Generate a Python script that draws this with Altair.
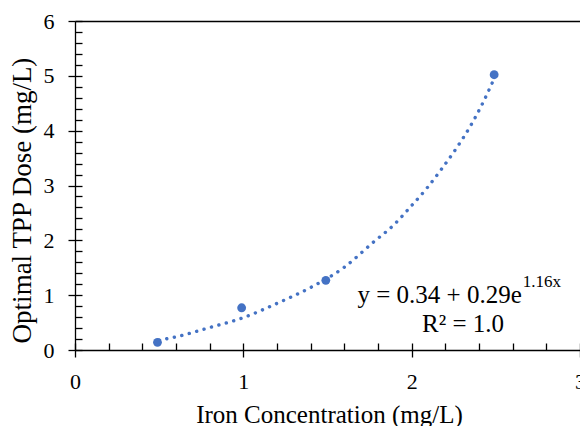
import altair as alt
import pandas as pd

# Data
iron = [0.49, 0.99, 1.49, 2.49]
dose = [0.14, 0.77, 1.27, 5.02]

trend_iron = [0.50, 0.60, 0.80, 1.00, 1.20, 1.40, 1.60, 1.77, 1.89, 1.99,
              2.09, 2.18, 2.27, 2.35, 2.42, 2.49]
trend_dose = [0.18, 0.24, 0.41, 0.59, 0.85, 1.14, 1.51, 1.96, 2.27, 2.60,
              2.95, 3.31, 3.70, 4.09, 4.49, 4.95]

x_major = [0, 1, 2, 3]
y_major = [0, 1, 2, 3, 4, 5, 6]
x_minor = [0, 0.2, 0.4, 0.6, 0.8, 1, 1.2, 1.4, 1.6, 1.8, 2, 2.2, 2.4, 2.6, 2.8, 3]
y_minor = [0, 0.2, 0.4, 0.6, 0.8, 1, 1.2, 1.4, 1.6, 1.8, 2, 2.2, 2.4, 2.6, 2.8, 3,
           3.2, 3.4, 3.6, 3.8, 4, 4.2, 4.4, 4.6, 4.8, 5, 5.2, 5.4, 5.6, 5.8, 6]

eq_main = ["y = 0.34 + 0.29e"]
eq_sup = ["1.16x"]
eq_r2 = ["R\u00b2 = 1.0"]

FONT = "Liberation Serif"
BLUE = "#4472C4"
LW = 1.3

df_pts = pd.DataFrame({"iron": iron, "dose": dose})
df_trend = pd.DataFrame({"iron": trend_iron, "dose": trend_dose})
df_main = pd.DataFrame({"x": [2.654], "y": [0.852], "t": eq_main})
df_sup = pd.DataFrame({"x": [2.66], "y": [1.14], "t": eq_sup})
df_r2 = pd.DataFrame({"x": [2.305], "y": [0.323], "t": eq_r2})

xs = alt.Scale(domain=[0, 3], nice=False)
ys = alt.Scale(domain=[0, 6], nice=False)

x_main = alt.Axis(orient="bottom", values=x_major, format="d", grid=False,
                  tickSize=7, tickColor="black", tickWidth=LW,
                  domainColor="black", domainWidth=LW,
                  labelFont=FONT, labelFontSize=22, labelColor="black",
                  labelPadding=14, labelFlush=False, labelOverlap=False,
                  title="Iron Concentration (mg/L)", titleFont=FONT,
                  titleFontSize=25, titleFontWeight="normal", titleColor="black",
                  titleX=254, titleY=72, titleBaseline="alphabetic",
                  titleAlign="center")
y_main = alt.Axis(orient="left", values=y_major, format="d", grid=False,
                  tickSize=7, tickColor="black", tickWidth=LW,
                  domainColor="black", domainWidth=LW,
                  labelFont=FONT, labelFontSize=22, labelColor="black",
                  labelPadding=14, labelFlush=False, labelOverlap=False,
                  title="Optimal TPP Dose (mg/L)", titleFont=FONT,
                  titleFontSize=27, titleFontWeight="normal", titleColor="black",
                  titleX=-53, titleY=179, titleAngle=270,
                  titleBaseline="middle", titleAlign="center")
x_inner = alt.Axis(orient="bottom", values=x_minor, offset=-7, grid=False,
                   tickSize=7, tickColor="black", tickWidth=LW,
                   domain=False, labels=False, title=None)
y_inner = alt.Axis(orient="left", values=y_minor, offset=-7, grid=False,
                   tickSize=7, tickColor="black", tickWidth=LW,
                   domain=False, labels=False, title=None)
x_top = alt.Axis(orient="top", grid=False, domain=True, domainColor="black",
                 domainWidth=LW, ticks=False, labels=False, title=None)

points = alt.Chart(df_pts).mark_circle(color=BLUE, size=78, opacity=1).encode(
    x=alt.X("iron:Q", scale=xs, axis=x_main),
    y=alt.Y("dose:Q", scale=ys, axis=y_main),
)

trend = alt.Chart(df_trend).mark_line(
    color=BLUE, strokeWidth=3.4, strokeDash=[0.1, 7.6], strokeCap="round",
    interpolate="monotone"
).encode(
    x=alt.X("iron:Q", scale=xs, axis=x_inner),
    y=alt.Y("dose:Q", scale=ys, axis=y_inner),
)

txt_main = alt.Chart(df_main).mark_text(
    font=FONT, fontSize=25, color="black", align="right", baseline="alphabetic"
).encode(
    x=alt.X("x:Q", scale=xs, axis=x_top),
    y=alt.Y("y:Q", scale=ys, axis=None),
    text="t:N",
)
txt_sup = alt.Chart(df_sup).mark_text(
    font=FONT, fontSize=17, color="black", align="left", baseline="alphabetic"
).encode(
    x=alt.X("x:Q", scale=xs, axis=None),
    y=alt.Y("y:Q", scale=ys, axis=None),
    text="t:N",
)
txt_r2 = alt.Chart(df_r2).mark_text(
    font=FONT, fontSize=25, color="black", align="center", baseline="alphabetic"
).encode(
    x=alt.X("x:Q", scale=xs, axis=None),
    y=alt.Y("y:Q", scale=ys, axis=None),
    text="t:N",
)

chart = alt.layer(trend, points, txt_main, txt_sup, txt_r2).resolve_axis(
    x="independent", y="independent"
).properties(
    width=505, height=329,
    padding={"left": 75, "top": 21, "right": 0, "bottom": 76},
    autosize=alt.AutoSizeParams(type="none"),
    background="white",
).configure_view(stroke=None).configure_axis(
    labelFont=FONT, titleFont=FONT, labelColor="black", titleColor="black"
).configure_text(font=FONT)

chart.save("out.html", embed_options={"renderer": "svg", "actions": False})
